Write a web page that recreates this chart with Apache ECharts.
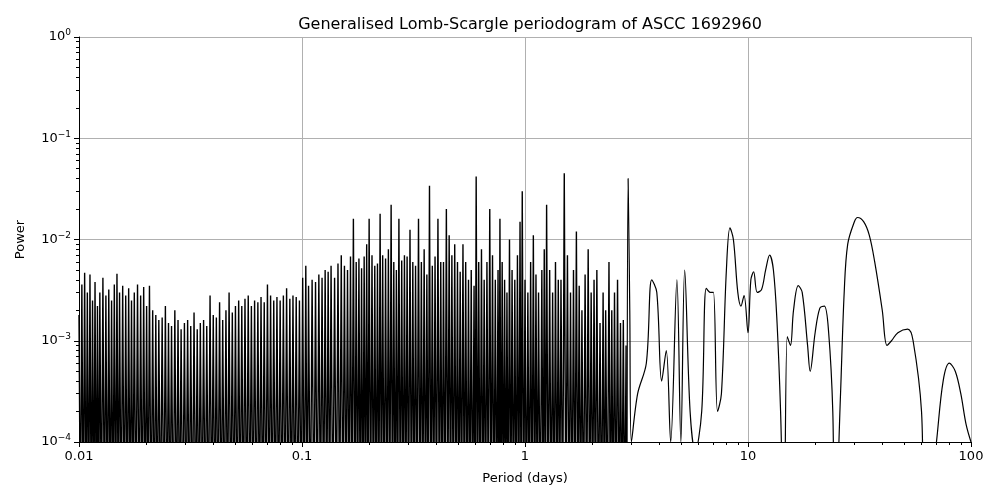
<!DOCTYPE html>
<html>
<head>
<meta charset="utf-8">
<title>Generalised Lomb-Scargle periodogram</title>
<script src="https://cdn.jsdelivr.net/npm/echarts@6.0.0/dist/echarts.min.js"></script>
<style>
  html, body { margin: 0; padding: 0; background: #fff; }
  #chart { width: 1000px; height: 500px; }
</style>
</head>
<body>
<div id="chart"></div>
<script>
// dense, noisy part: peak periods (days) and peak powers, each peak drops below the axis floor
const peakPeriods = [0.0100,0.0103,0.0106,0.0109,0.0112,0.0115,0.0118,0.0121,0.0124,0.0128,0.0132,0.0136,0.014,0.0144,0.0148,0.0152,0.0157,0.0162,0.0167,0.0172,0.0177,0.0183,0.0189,0.0195,0.0201,0.0207,0.0214,0.0221,0.0228,0.0236,0.0244,0.0252,0.026,0.0269,0.0278,0.0287,0.0297,0.0307,0.0317,0.0328,0.0339,0.035,0.0362,0.0374,0.0387,0.04,0.0413,0.0427,0.0441,0.0456,0.0471,0.0487,0.0503,0.052,0.0537,0.0555,0.0574,0.0593,0.0613,0.0634,0.0655,0.0677,0.07,0.0723,0.0747,0.0772,0.0798,0.0825,0.0853,0.0882,0.0911,0.0942,0.0974,0.1007,0.104,0.107,0.111,0.115,0.119,0.123,0.127,0.131,0.135,0.14,0.145,0.15,0.155,0.16,0.165,0.17,0.175,0.18,0.185,0.19,0.195,0.2,0.206,0.212,0.218,0.224,0.23,0.237,0.244,0.251,0.258,0.265,0.272,0.28,0.288,0.296,0.305,0.314,0.323,0.333,0.343,0.353,0.363,0.373,0.384,0.395,0.407,0.419,0.431,0.444,0.457,0.47,0.484,0.498,0.512,0.527,0.542,0.558,0.574,0.591,0.604,0.62,0.638,0.656,0.675,0.695,0.715,0.736,0.757,0.772,0.79,0.81,0.83,0.852,0.875,0.9,0.925,0.95,0.972,1.0,1.03,1.06,1.09,1.12,1.15,1.19,1.22,1.25,1.29,1.33,1.37,1.41,1.45,1.5,1.55,1.6,1.65,1.7,1.75,1.8,1.86,1.92,1.98,2.04,2.1,2.17,2.24,2.3,2.38,2.45,2.52,2.6,2.68,2.76,2.84];
const peakPowers = [0.0018,0.0036,0.0047,0.003,0.0045,0.0025,0.0038,0.0022,0.003,0.0042,0.0028,0.0032,0.0025,0.0036,0.0046,0.003,0.0035,0.0028,0.0033,0.0025,0.003,0.0036,0.0028,0.0034,0.0022,0.0035,0.002,0.0018,0.0016,0.0017,0.0022,0.0015,0.0014,0.002,0.0016,0.0013,0.0015,0.0016,0.0014,0.0019,0.0013,0.0015,0.0016,0.0014,0.0028,0.0018,0.0017,0.0024,0.0016,0.002,0.003,0.0019,0.0022,0.0025,0.0022,0.0026,0.0028,0.0022,0.0025,0.0024,0.0027,0.0024,0.0036,0.0028,0.0025,0.0027,0.0025,0.0028,0.0033,0.0026,0.0028,0.0027,0.0025,0.0042,0.0055,0.0035,0.004,0.0038,0.0045,0.0042,0.005,0.0048,0.0055,0.0042,0.0058,0.007,0.0055,0.005,0.0068,0.016,0.006,0.0065,0.0052,0.0068,0.009,0.016,0.007,0.0055,0.0058,0.018,0.007,0.0065,0.008,0.022,0.006,0.005,0.016,0.0062,0.007,0.0068,0.0125,0.006,0.0055,0.016,0.006,0.008,0.0045,0.034,0.0055,0.0068,0.016,0.006,0.006,0.02,0.011,0.007,0.009,0.006,0.0048,0.009,0.006,0.004,0.005,0.0035,0.042,0.006,0.008,0.004,0.006,0.02,0.007,0.004,0.005,0.016,0.006,0.004,0.003,0.01,0.005,0.004,0.007,0.015,0.03,0.004,0.003,0.006,0.011,0.0045,0.003,0.005,0.008,0.022,0.005,0.003,0.006,0.004,0.004,0.045,0.007,0.003,0.005,0.012,0.0035,0.002,0.0045,0.008,0.003,0.004,0.005,0.0015,0.003,0.002,0.006,0.002,0.003,0.004,0.0015,0.0016,0.0009];
const floorPower = 0.00001;

// smooth long-period part
const smoothPeriods = [2.87,2.9,2.95,3.0,3.2,3.5,3.7,3.9,4.1,4.3,4.5,4.8,5.0,5.2,5.5,5.8,6.2,6.5,6.8,7.0,7.3,7.6,8.0,8.3,8.6,9.0,9.3,9.6,10.0,10.3,10.6,11.0,11.5,12.0,12.5,13.0,13.5,14.0,14.5,15.0,15.5,16.0,16.8,17.5,18.5,19.0,20.0,21.0,22.0,23.0,24.0,24.5,26.0,27.0,28.0,30.0,31.0,33.0,35.0,37.0,40.0,42.0,44.0,47.0,52.0,55.0,60.0,62.0,70.0,75.0,80.0,85.0,90.0,95.0,100.0];
const smoothPowers = [0.0001,0.04,0.002,0.0001,0.0003,0.0006,0.004,0.003,0.0004,0.0008,0.0001,0.004,0.0001,0.005,0.0002,0.00008,0.0002,0.0033,0.003,0.003,0.0002,0.0003,0.005,0.013,0.01,0.003,0.0022,0.0028,0.0012,0.004,0.0048,0.003,0.0032,0.005,0.007,0.005,0.0015,0.0002,0.00001,0.0011,0.0009,0.002,0.0035,0.003,0.0009,0.0005,0.0012,0.0021,0.0022,0.0012,0.0002,0.00001,0.0003,0.003,0.009,0.015,0.0165,0.015,0.011,0.006,0.002,0.0009,0.001,0.0012,0.0013,0.001,0.0002,0.00001,0.0001,0.0004,0.0006,0.0005,0.0003,0.00015,0.0001];

const noisyData = [];
for (let i = 0; i < peakPeriods.length; i++) {
  noisyData.push([peakPeriods[i], peakPowers[i]]);
  const next = i + 1 < peakPeriods.length ? peakPeriods[i + 1] : smoothPeriods[0];
  noisyData.push([Math.sqrt(peakPeriods[i] * next), floorPower]);
}
noisyData.push([smoothPeriods[0], smoothPowers[0]]);
const smoothData = smoothPeriods.map((p, i) => [p, smoothPowers[i]]);

const sup = { '-4': '−4', '-3': '−3', '-2': '−2', '-1': '−1', '0': '0' };
const chart = echarts.init(document.getElementById('chart'));
chart.setOption({
  animation: false,
  title: {
    text: 'Generalised Lomb-Scargle periodogram of ASCC 1692960',
    left: 525, top: 12, textAlign: 'center',
    textStyle: { fontFamily: 'DejaVu Sans', fontSize: 16, fontWeight: 'normal', color: '#000' }
  },
  grid: { left: 79, right: 29, top: 37, bottom: 58 },
  xAxis: {
    type: 'log', min: 0.01, max: 100, logBase: 10,
    name: 'Period (days)', nameLocation: 'middle', nameGap: 30,
    nameTextStyle: { fontFamily: 'DejaVu Sans', fontSize: 13, color: '#000' },
    axisLine: { onZero: false, lineStyle: { color: '#000' } },
    axisTick: { length: 5, lineStyle: { color: '#000' } },
    minorTick: { show: true, splitNumber: 9, length: 3, lineStyle: { color: '#000' } },
    axisLabel: { fontFamily: 'DejaVu Sans', fontSize: 13, color: '#000', margin: 8,
      formatter: v => String(Number(v.toPrecision(3))) },
    splitLine: { show: true, lineStyle: { color: '#b0b0b0' } }
  },
  yAxis: {
    type: 'log', min: 0.0001, max: 1, logBase: 10,
    name: 'Power', nameLocation: 'middle', nameGap: 52,
    nameTextStyle: { fontFamily: 'DejaVu Sans', fontSize: 13, color: '#000' },
    axisLine: { show: true, lineStyle: { color: '#000' } },
    axisTick: { show: true, length: 5, lineStyle: { color: '#000' } },
    minorTick: { show: true, splitNumber: 9, length: 3, lineStyle: { color: '#000' } },
    axisLabel: {
      color: '#000', margin: 8,
      formatter: v => '{b|10}{s|' + sup[String(Math.round(Math.log10(v)))] + '}',
      rich: {
        b: { fontFamily: 'DejaVu Sans', fontSize: 13, color: '#000' },
        s: { fontFamily: 'DejaVu Sans', fontSize: 9, color: '#000', verticalAlign: 'top', padding: [0, 0, 8, 0] }
      }
    },
    splitLine: { show: true, lineStyle: { color: '#b0b0b0' } }
  },
  series: [{
    type: 'line', data: noisyData, showSymbol: false, sampling: null,
    lineStyle: { color: '#000', width: 1.4 }, clip: true
  }, {
    type: 'line', data: smoothData, showSymbol: false, smooth: 0.35,
    lineStyle: { color: '#000', width: 1.2 }, clip: true
  }]
});
</script>
</body>
</html>
